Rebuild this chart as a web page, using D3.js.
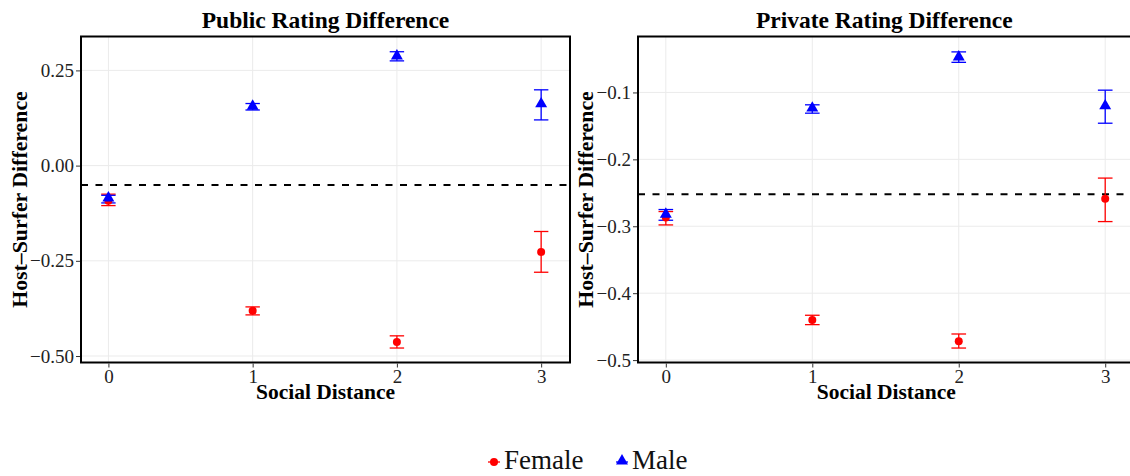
<!DOCTYPE html>
<html>
<head>
<meta charset="utf-8">
<script src="https://cdn.jsdelivr.net/npm/d3@7"></script>
<style>
  body { margin: 0; background: #fff; }
  svg text { font-family: "Liberation Serif", "Times New Roman", serif; }
</style>
</head>
<body>
<div id="wrapper"></div>
<script>
// values
const socialDistance = [0, 1, 2, 3];

const publicFemale   = [-0.092, -0.381, -0.463, -0.227];
const publicFemaleLo = [-0.105, -0.392, -0.479, -0.280];
const publicFemaleHi = [-0.075, -0.371, -0.447, -0.173];
const publicMale     = [-0.085, 0.156, 0.288, 0.162];
const publicMaleLo   = [-0.098, 0.146, 0.275, 0.120];
const publicMaleHi   = [-0.078, 0.163, 0.299, 0.199];
const publicRef = -0.051;
const publicTicks = [0.25, 0, -0.25, -0.5];

const privateFemale   = [-0.287, -0.440, -0.472, -0.259];
const privateFemaleLo = [-0.298, -0.447, -0.482, -0.293];
const privateFemaleHi = [-0.278, -0.433, -0.461, -0.228];
const privateMale     = [-0.282, -0.1234, -0.047, -0.120];
const privateMaleLo   = [-0.291, -0.131, -0.055, -0.146];
const privateMaleHi   = [-0.275, -0.1185, -0.0394, -0.0966];
const privateRef = -0.252;
const privateTicks = [-0.1, -0.2, -0.3, -0.4, -0.5];

const genders = ["Female", "Male"];
const colors = { Female: "#ff0000", Male: "#0000ff" };

function rows(vals, lo, hi, g) {
    return socialDistance.map((x, i) => ({ x: x, y: vals[i], lo: lo[i], hi: hi[i], g: g }));
}

const panels = [
    {
        title: "Public Rating Difference",
        left: 81, right: 570, labelX: 27,
        yDomain: [-0.517, 0.339],
        ticks: publicTicks,
        fmt: d3.format(".2f"),
        ref: publicRef,
        data: rows(publicFemale, publicFemaleLo, publicFemaleHi, "Female")
            .concat(rows(publicMale, publicMaleLo, publicMaleHi, "Male"))
    },
    {
        title: "Private Rating Difference",
        left: 638, right: 1134.5, labelX: 593,
        yDomain: [-0.5036, -0.0164],
        ticks: privateTicks,
        fmt: d3.format(".1f"),
        ref: privateRef,
        data: rows(privateFemale, privateFemaleLo, privateFemaleHi, "Female")
            .concat(rows(privateMale, privateMaleLo, privateMaleHi, "Male"))
    }
];

const width = 1130, height = 476;
const panelTop = 36.5, panelBottom = 362.5;

const svg = d3.select("#wrapper").append("svg")
    .attr("width", width)
    .attr("height", height);

const triangle = d3.symbol().type(d3.symbolTriangle).size(62);

panels.forEach(p => {
    const xScaler = d3.scaleLinear().domain([-0.19, 3.2]).range([p.left, p.right]);
    const yScaler = d3.scaleLinear().domain(p.yDomain).range([panelBottom, panelTop]);
    const g = svg.append("g");

    // grid
    g.selectAll(".gx").data(socialDistance).join("line")
        .attr("x1", d => xScaler(d)).attr("x2", d => xScaler(d))
        .attr("y1", panelTop).attr("y2", panelBottom)
        .attr("stroke", "#ebebeb").attr("stroke-width", 1);
    g.selectAll(".gy").data(p.ticks).join("line")
        .attr("x1", p.left).attr("x2", p.right)
        .attr("y1", d => yScaler(d)).attr("y2", d => yScaler(d))
        .attr("stroke", "#ebebeb").attr("stroke-width", 1);

    // dashed reference line
    g.append("line")
        .attr("x1", p.left).attr("x2", p.right)
        .attr("y1", yScaler(p.ref)).attr("y2", yScaler(p.ref))
        .attr("stroke", "#000").attr("stroke-width", 2)
        .attr("stroke-dasharray", "7,7.5");

    // error bars
    const bars = g.selectAll(".bar").data(p.data).join("g")
        .attr("stroke", d => colors[d.g]).attr("stroke-width", 1.3);
    bars.append("line")
        .attr("x1", d => xScaler(d.x)).attr("x2", d => xScaler(d.x))
        .attr("y1", d => yScaler(d.lo)).attr("y2", d => yScaler(d.hi));
    bars.append("line")
        .attr("x1", d => xScaler(d.x - 0.05)).attr("x2", d => xScaler(d.x + 0.05))
        .attr("y1", d => yScaler(d.lo)).attr("y2", d => yScaler(d.lo));
    bars.append("line")
        .attr("x1", d => xScaler(d.x - 0.05)).attr("x2", d => xScaler(d.x + 0.05))
        .attr("y1", d => yScaler(d.hi)).attr("y2", d => yScaler(d.hi));

    // points
    g.selectAll(".pf").data(p.data.filter(d => d.g === "Female")).join("circle")
        .attr("cx", d => xScaler(d.x)).attr("cy", d => yScaler(d.y))
        .attr("r", 4).attr("fill", colors.Female);
    g.selectAll(".pm").data(p.data.filter(d => d.g === "Male")).join("path")
        .attr("d", triangle)
        .attr("transform", d => `translate(${xScaler(d.x)},${yScaler(d.y)})`)
        .attr("fill", colors.Male);

    // panel border
    g.append("rect")
        .attr("x", p.left).attr("y", panelTop)
        .attr("width", p.right - p.left).attr("height", panelBottom - panelTop)
        .attr("fill", "none").attr("stroke", "#000").attr("stroke-width", 2);

    // axes
    const yAxis = g.append("g")
        .attr("transform", `translate(${p.left - 1},0)`)
        .call(d3.axisLeft(yScaler).tickValues(p.ticks)
            .tickFormat(d => p.fmt(d).replace("-", "\u2212")).tickSize(4).tickPadding(2));
    yAxis.select(".domain").remove();
    yAxis.selectAll("text").attr("font-size", 19).attr("fill", "#222")
        .attr("font-family", "Liberation Serif");
    yAxis.selectAll("line").attr("stroke", "#333");

    const xAxis = g.append("g")
        .attr("transform", `translate(0,${panelBottom + 1})`)
        .call(d3.axisBottom(xScaler).tickValues(socialDistance)
            .tickFormat(d3.format("d")).tickSize(4).tickPadding(2));
    xAxis.select(".domain").remove();
    xAxis.selectAll("text").attr("font-size", 19).attr("fill", "#222")
        .attr("font-family", "Liberation Serif");
    xAxis.selectAll("line").attr("stroke", "#333");

    // titles
    svg.append("text")
        .attr("x", (p.left + p.right) / 2 - (p.right > width ? 2 : 0)).attr("y", 28)
        .attr("text-anchor", "middle").attr("font-weight", "bold").attr("font-size", 23.5)
        .text(p.title);
    svg.append("text")
        .attr("x", (p.left + p.right) / 2).attr("y", 399)
        .attr("text-anchor", "middle").attr("font-weight", "bold").attr("font-size", 21.5)
        .text("Social Distance");
    svg.append("text")
        .attr("transform", `translate(${p.labelX},${(panelTop + panelBottom) / 2}) rotate(-90)`)
        .attr("text-anchor", "middle").attr("font-weight", "bold").attr("font-size", 21.8)
        .text("Host\u2013Surfer Difference");
});

// legend
const legend = svg.append("g").attr("transform", "translate(0,462)");
const keys = [
    { g: "Female", x: 494 },
    { g: "Male", x: 622 }
];
keys.forEach(k => {
    legend.append("line")
        .attr("x1", k.x - 6).attr("x2", k.x + 6).attr("y1", 0).attr("y2", 0)
        .attr("stroke", colors[k.g]).attr("stroke-width", 1.3);
    if (k.g === "Female") {
        legend.append("circle").attr("cx", k.x).attr("cy", 0).attr("r", 4).attr("fill", colors.Female);
    } else {
        legend.append("path").attr("d", triangle)
            .attr("transform", `translate(${k.x},-1)`).attr("fill", colors.Male);
    }
    legend.append("text")
        .attr("x", k.x + 10).attr("y", 7)
        .attr("font-size", 27).attr("fill", "#111")
        .text(k.g);
});
</script>
</body>
</html>
